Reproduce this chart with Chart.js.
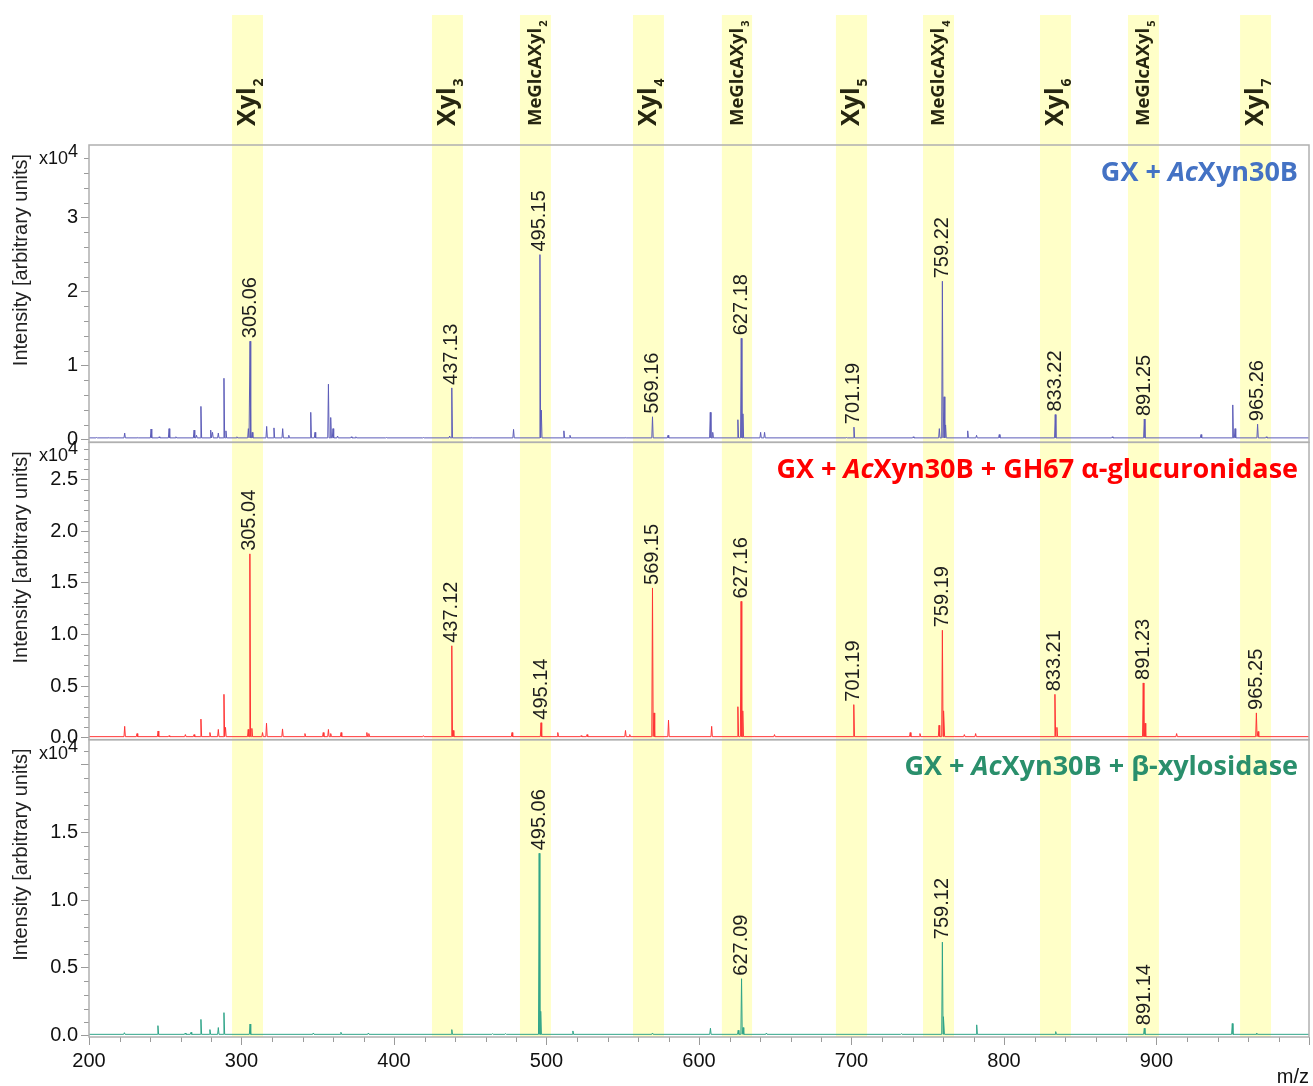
<!DOCTYPE html>
<html>
<head>
<meta charset="utf-8">
<script src="https://cdn.jsdelivr.net/npm/chart.js@4.4.0/dist/chart.umd.min.js"></script>
<style>
  html, body { margin: 0; padding: 0; background: #fff; }
  #wrap { width: 1313px; height: 1086px; }
</style>
</head>
<body>
<div id="wrap"><canvas id="ms" width="1313" height="1086"></canvas></div>
<script>
// highlighted m/z windows and their names
const bandStart = [293.8, 424.9, 482.6, 556.7, 615.0, 689.8, 746.9, 823.6, 881.3, 954.8];
const bandEnd   = [314.1, 445.2, 502.9, 577.0, 634.8, 710.2, 767.2, 843.9, 901.6, 975.1];
const bandName  = ['Xyl', 'Xyl', 'MeGlcAXyl', 'Xyl', 'MeGlcAXyl', 'Xyl', 'MeGlcAXyl', 'Xyl', 'MeGlcAXyl', 'Xyl'];
const bandSub   = ['2', '3', '2', '4', '3', '5', '4', '6', '5', '7'];

// GX + AcXyn30B (intensity x10^4)
const blueMz = [205, 213, 223.4, 232, 240.7, 246, 252.5, 257, 268.9, 270.5, 273.4, 279.8, 281, 284.8, 288.5, 289.8,
  297, 304.5, 305.6, 307, 316.5, 321.3, 327, 331, 345.4, 348.2, 357, 358.5, 360, 363, 372, 375, 395, 419.3,
  436.5, 437.9, 451, 478.4, 495.7, 496.6, 511.4, 515.4, 552, 569.5, 579.7, 607.4, 609, 625.5, 627.7, 628.8,
  640.4, 643, 696.8, 701.6, 740.5, 757.6, 759.6, 760.7, 761.7, 776.2, 782, 796.9, 833.6, 871, 892.0, 929.2,
  950, 951.5, 966.3, 972];
const blueInt = [0.03, 0.03, 0.09, 0.03, 0.145, 0.04, 0.15, 0.04, 0.13, 0.06, 0.45, 0.13, 0.1, 0.09, 0.83, 0.12,
  0.04, 0.15, 1.33, 0.1, 0.18, 0.16, 0.15, 0.06, 0.37, 0.1, 0.75, 0.3, 0.15, 0.05, 0.04, 0.04, 0.03, 0.03,
  0.05, 0.70, 0.03, 0.14, 2.50, 0.40, 0.12, 0.06, 0.03, 0.31, 0.06, 0.37, 0.1, 0.27, 1.37, 0.35,
  0.1, 0.1, 0.03, 0.17, 0.04, 0.15, 2.14, 0.58, 0.2, 0.12, 0.06, 0.07, 0.34, 0.04, 0.28, 0.07,
  0.47, 0.15, 0.21, 0.04];
const blueLabelMz = [305.6, 437.9, 495.7, 569.5, 627.7, 701.6, 759.6, 833.6, 892.0, 966.3];
const blueLabels  = ['305.06', '437.13', '495.15', '569.16', '627.18', '701.19', '759.22', '833.22', '891.25', '965.26'];

// GX + AcXyn30B + GH67 alpha-glucuronidase
const redMz = [223.4, 231.5, 245.3, 252.5, 263.2, 268.9, 273.4, 279.3, 284.8, 288.5, 289.5, 304.4, 305.5, 306.8,
  313.8, 316.4, 326.9, 341.6, 353.6, 357, 358.5, 365.3, 382.2, 383.5, 419.3, 437.9, 438.8, 477.4, 496.4,
  507.4, 522.7, 526.6, 551.8, 554.6, 569.5, 570.5, 580, 608.3, 625.5, 627.6, 628.7, 649.5, 701.5, 738.5,
  744.9, 757.4, 759.6, 760.6, 774, 781.4, 833.4, 834.7, 891.3, 892.5, 913.2, 965.5, 966.6];
const redInt = [0.11, 0.04, 0.065, 0.02, 0.03, 0.03, 0.18, 0.05, 0.08, 0.42, 0.1, 0.08, 1.78, 0.09,
  0.05, 0.14, 0.085, 0.04, 0.05, 0.08, 0.04, 0.05, 0.05, 0.04, 0.02, 0.89, 0.07, 0.05, 0.145,
  0.05, 0.02, 0.03, 0.07, 0.03, 1.45, 0.24, 0.17, 0.11, 0.30, 1.32, 0.26, 0.03, 0.32, 0.05,
  0.04, 0.12, 1.04, 0.26, 0.03, 0.04, 0.42, 0.1, 0.53, 0.14, 0.04, 0.24, 0.06];
const redLabelMz = [305.5, 437.9, 496.4, 569.5, 627.6, 701.5, 759.6, 833.4, 891.3, 965.5];
const redLabels  = ['305.04', '437.12', '495.14', '569.15', '627.16', '701.19', '759.19', '833.21', '891.23', '965.25'];

// GX + AcXyn30B + beta-xylosidase
const greenMz = [223.2, 245.2, 263.1, 266.9, 273.4, 279.3, 284.8, 288.5, 305.6, 347.1, 365.2, 383.2, 437.9,
  464.6, 473.2, 495.2, 496.2, 517.3, 569.5, 607.5, 625.7, 627.9, 628.9, 644.2, 732.7, 759.6, 760.5,
  782.1, 833.9, 892.0, 949.7, 965.7];
const greenInt = [0.022, 0.074, 0.02, 0.025, 0.12, 0.045, 0.06, 0.17, 0.086, 0.02, 0.025, 0.02, 0.045,
  0.015, 0.015, 1.345, 0.18, 0.035, 0.02, 0.055, 0.04, 0.42, 0.06, 0.02, 0.015, 0.69, 0.14,
  0.08, 0.03, 0.055, 0.09, 0.02];
const greenLabelMz = [495.2, 627.9, 759.6, 892.0];
const greenLabels  = ['495.06', '627.09', '759.12', '891.14'];

const baselines = [0.025, 0.01, 0.01];

// panel styling
const panelAxes = ['y1', 'y2', 'y3'];
const lineColors = ['#5c5cb8', '#ff3434', '#2fa488'];
const titleColors = ['#4472c4', '#ff0000', '#2a8f6c'];
const titleRuns = [
  [['GX + ', false], ['Ac', true], ['Xyn30B', false]],
  [['GX + ', false], ['Ac', true], ['Xyn30B + GH67 \u03b1-glucuronidase', false]],
  [['GX + ', false], ['Ac', true], ['Xyn30B + \u03b2-xylosidase', false]]
];
const minorSteps = [0.2, 0.1, 0.1];
const majorSteps = [1, 0.5, 0.5];

const spectra = [
  { mz: blueMz, inten: blueInt, labelMz: blueLabelMz, labels: blueLabels },
  { mz: redMz, inten: redInt, labelMz: redLabelMz, labels: redLabels },
  { mz: greenMz, inten: greenInt, labelMz: greenLabelMz, labels: greenLabels }
];

// stick peaks on a flat baseline
function buildTrace(mz, inten, base) {
  const pts = [{ x: 200, y: base }];
  mz.forEach((m, i) => {
    pts.push({ x: m - 0.45, y: base }, { x: m, y: inten[i] }, { x: m + 0.45, y: base });
  });
  pts.push({ x: 1000, y: base });
  return pts;
}

const TICK = '#9a9a9a';
const FRAME = '#b0b0b0';

function yAxis(min, max, step, fmt) {
  return {
    type: 'linear', position: 'left', stack: 'panels', stackWeight: 1,
    min: min, max: max, offset: false,
    border: { display: false },
    grid: { drawOnChartArea: false, drawTicks: true, tickLength: 8, tickColor: TICK, tickWidth: 1 },
    ticks: { stepSize: step, includeBounds: false, autoSkip: false, padding: 3, color: '#111',
      font: { size: 20 }, callback: fmt },
    afterFit(s) { s.width = 89; }
  };
}

const msDecor = {
  id: 'msDecor',
  beforeDraw(chart) {
    const { ctx, chartArea, scales } = chart;
    ctx.save();
    ctx.fillStyle = '#fff';
    ctx.fillRect(0, 0, chart.width, chart.height);
    ctx.fillStyle = '#ffffc8';
    bandStart.forEach((s, i) => {
      const x0 = scales.x.getPixelForValue(s);
      const x1 = scales.x.getPixelForValue(bandEnd[i]);
      ctx.fillRect(x0, 15, x1 - x0, chartArea.bottom - 15);
    });
    ctx.restore();
  },
  afterDraw(chart) {
    const { ctx, chartArea, scales } = chart;
    const xs = scales.x;
    ctx.save();

    // minor ticks
    ctx.strokeStyle = TICK;
    ctx.lineWidth = 1;
    ctx.beginPath();
    for (let v = 220; v < 1000; v += 20) {
      if (v % 100 === 0) continue;
      const px = Math.round(xs.getPixelForValue(v)) + 0.5;
      ctx.moveTo(px, chartArea.bottom);
      ctx.lineTo(px, chartArea.bottom + 5);
    }
    panelAxes.forEach((id, p) => {
      const s = scales[id];
      const step = minorSteps[p];
      const major = majorSteps[p];
      for (let k = 1; k * step <= s.max; k++) {
        const v = k * step;
        if (Math.abs(v / major - Math.round(v / major)) < 1e-6) continue;
        const py = Math.round(s.getPixelForValue(v)) + 0.5;
        ctx.moveTo(chartArea.left - 5, py);
        ctx.lineTo(chartArea.left, py);
      }
    });
    ctx.stroke();

    // panel frames
    ctx.strokeStyle = FRAME;
    ctx.lineWidth = 1.5;
    panelAxes.forEach(id => {
      const s = scales[id];
      ctx.strokeRect(chartArea.left, s.top, chartArea.right - chartArea.left, s.bottom - s.top);
    });

    // band names
    ctx.fillStyle = '#262610';
    bandStart.forEach((s, i) => {
      const cx = (xs.getPixelForValue(s) + xs.getPixelForValue(bandEnd[i])) / 2;
      const big = bandName[i] === 'Xyl';
      const fs = big ? 25 : 18.5;
      const ss = big ? 14 : 11;
      ctx.save();
      ctx.translate(cx + fs * 0.3, 126);
      ctx.rotate(-Math.PI / 2);
      ctx.textAlign = 'left';
      ctx.textBaseline = 'alphabetic';
      ctx.font = 'bold ' + fs + 'px "Open Sans"';
      const w = ctx.measureText(bandName[i]).width;
      ctx.fillText(bandName[i], 0, 0);
      ctx.font = 'bold ' + ss + 'px "Open Sans"';
      ctx.fillText(bandSub[i], w + 1, big ? 8 : 6);
      ctx.restore();
    });

    panelAxes.forEach((id, p) => {
      const s = scales[id];
      const sp = spectra[p];

      // peak annotations
      ctx.fillStyle = '#1e1e1e';
      ctx.font = '20px "Liberation Sans", Arial, sans-serif';
      sp.labelMz.forEach((m, i) => {
        const h = sp.inten[sp.mz.indexOf(m)];
        ctx.save();
        ctx.translate(xs.getPixelForValue(m), s.getPixelForValue(h) - 3);
        ctx.rotate(-Math.PI / 2);
        ctx.textAlign = 'left';
        ctx.textBaseline = 'middle';
        ctx.fillText(sp.labels[i], 0, 0);
        ctx.restore();
      });

      // sample title
      const runs = titleRuns[p];
      let total = 0;
      runs.forEach(r => {
        ctx.font = (r[1] ? 'italic ' : '') + 'bold 27px "Open Sans"';
        total += ctx.measureText(r[0]).width;
      });
      let x = chartArea.right - 11 - total;
      ctx.fillStyle = titleColors[p];
      ctx.textAlign = 'left';
      ctx.textBaseline = 'middle';
      runs.forEach(r => {
        ctx.font = (r[1] ? 'italic ' : '') + 'bold 27px "Open Sans"';
        ctx.fillText(r[0], x, s.top + 28);
        x += ctx.measureText(r[0]).width;
      });

      // x10^4 multiplier
      ctx.fillStyle = '#111';
      ctx.font = '18px "Liberation Sans", Arial, sans-serif';
      ctx.textAlign = 'right';
      const w4 = ctx.measureText('4').width;
      ctx.fillText('4', 78, s.top + 7);
      ctx.fillText('x10', 78 - w4, s.top + 14);

      // axis title
      ctx.save();
      ctx.translate(21, s.top + 115);
      ctx.rotate(-Math.PI / 2);
      ctx.textAlign = 'center';
      ctx.textBaseline = 'middle';
      ctx.fillStyle = '#222';
      ctx.font = '20px "Liberation Sans", Arial, sans-serif';
      ctx.fillText('Intensity [arbitrary units]', 0, 0);
      ctx.restore();
    });

    // m/z
    ctx.fillStyle = '#111';
    ctx.font = '20px "Liberation Sans", Arial, sans-serif';
    ctx.textAlign = 'right';
    ctx.textBaseline = 'middle';
    ctx.fillText('m/z', chartArea.right, 1077);
    ctx.restore();
  }
};

Chart.defaults.font.family = '"Liberation Sans", Arial, sans-serif';

// left-hand stacked axes are laid out bottom-up, so the lowest panel comes first
new Chart(document.getElementById('ms'), {
  type: 'line',
  data: {
    datasets: spectra.map((sp, p) => ({
      data: buildTrace(sp.mz, sp.inten, baselines[p]),
      yAxisID: panelAxes[p],
      borderColor: lineColors[p],
      borderWidth: 1,
      pointRadius: 0,
      tension: 0,
      fill: false
    }))
  },
  options: {
    responsive: false,
    animation: false,
    layout: { padding: { top: 145, right: 4, left: 0, bottom: 0 } },
    plugins: { legend: { display: false }, tooltip: { enabled: false } },
    scales: {
      x: {
        type: 'linear', position: 'bottom', min: 200, max: 1000,
        border: { display: false },
        grid: { drawOnChartArea: false, tickLength: 8, tickColor: TICK },
        ticks: { stepSize: 100, includeBounds: false, autoSkip: false, maxRotation: 0, padding: 4,
          color: '#111', font: { size: 20 }, callback: v => (v === 1000 ? '' : v) },
        afterFit(s) { s.height = 49; }
      },
      y3: yAxis(-0.0096, 2.183, 0.5, v => (v >= 2 ? '' : v.toFixed(1))),
      y2: yAxis(-0.019, 2.86, 0.5, v => v.toFixed(1)),
      y1: yAxis(-0.035, 3.98, 1, v => v)
    }
  },
  plugins: [msDecor]
});
</script>
</body>
</html>
